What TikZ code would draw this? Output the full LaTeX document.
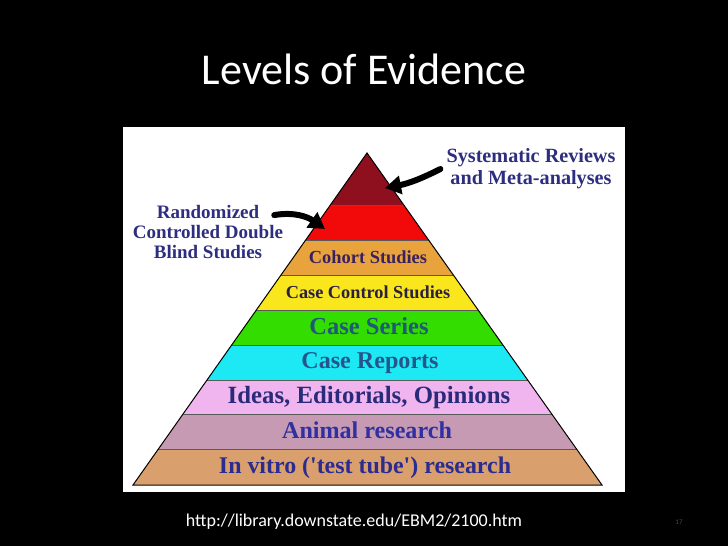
\documentclass[tikz,border=0pt]{standalone}
\usepackage{fontspec}
\setmainfont{Liberation Serif}
\newfontfamily\slidefont{Carlito}
\usetikzlibrary{arrows.meta}
\definecolor{tapex}{HTML}{8E0F1E}
\definecolor{trct}{HTML}{F20A0A}
\definecolor{tcohort}{HTML}{E8A33D}
\definecolor{tcasectl}{HTML}{FAE61C}
\definecolor{tseries}{HTML}{33DD00}
\definecolor{treports}{HTML}{1DE9F5}
\definecolor{tideas}{HTML}{F0B4EE}
\definecolor{tanimal}{HTML}{C79AB4}
\definecolor{tvitro}{HTML}{D9A06E}
\definecolor{notecol}{HTML}{2E2E80}
\begin{document}
\begin{tikzpicture}[x=1pt, y=-1pt, >={Triangle[length=16pt,width=18pt]},
  tier/.style={font=\bfseries\fontsize{#1}{#1}\selectfont, inner sep=0pt, anchor=base},
  note/.style={font=\bfseries\fontsize{19}{20}\selectfont, align=center, text=notecol, inner sep=0pt},
  fatarrow/.style={->, line width=6pt, line cap=round}]
\fill[black] (0,0) rectangle (728,546);
\fill[white] (123,127) rectangle (625,492);
\begin{scope}
\clip (367,153) -- (602,485) -- (133,485) -- cycle;
\foreach \ytop/\ybot/\col in {153/205/tapex, 205/240/trct, 240/275/tcohort, 275/310/tcasectl, 310/345/tseries, 345/380/treports, 380/414/tideas, 414/449/tanimal, 449/485/tvitro}
  \fill[\col] (133,\ytop) rectangle (602,\ybot);
\foreach \y in {205,240,275,310,345,380,414,449}
  \draw[line width=0.8pt, black!65] (133,\y) -- (602,\y);
\end{scope}
\draw[line width=1pt] (367,153) -- (602,485) -- (133,485) -- cycle;

\node[tier=18.4, text={rgb,255:red,58;green,32;blue,96}] (cohort) at (368,263) {Cohort Studies};
\node[tier=18.3, text={rgb,255:red,42;green,32;blue,64}] (casectl) at (368,298) {Case Control Studies};
\node[tier=24.5, text={rgb,255:red,30;green,90;blue,120}] (series) at (369,334) {Case Series};
\node[tier=24.1, text={rgb,255:red,36;green,86;blue,140}] (reports) at (370,368) {Case Reports};
\node[tier=24.8, text={rgb,255:red,42;green,42;blue,122}] (ideas) at (369,403) {Ideas, Editorials, Opinions};
\node[tier=24.1, text={rgb,255:red,48;green,48;blue,160}] (animal) at (367,438) {Animal research};
\node[tier=23.9, text={rgb,255:red,43;green,43;blue,144}] (vitro) at (365,473) {In vitro (\textquotesingle test tube\textquotesingle) research};

\node[note, font=\bfseries\fontsize{20.2}{22}\selectfont] (sysrev) at (531,169) {Systematic Reviews\\and Meta-analyses};
\node[note] (rct) at (208,232) {Randomized\\Controlled Double\\Blind Studies};
\coordinate (systip) at (385,188);
\coordinate (rcttip) at (325,229);
\draw[fatarrow] ([xshift=-6pt]sysrev.west) to[bend left=8] (systip);
\draw[fatarrow] ([shift={(-9,10)}]rct.north east) to[out=10, in=145] (rcttip);

\node[text=white, font=\slidefont\fontsize{44}{44}\selectfont] (title) at (364,69) {Levels of Evidence};
\node[text=white, font=\slidefont\fontsize{18}{18}\selectfont] (url) at (354,522) {http://library.downstate.edu/EBM2/2100.htm};
\node[text=black!70, font=\slidefont\fontsize{7}{7}\selectfont] (page) at (679,522) {17};
\end{tikzpicture}
\end{document}
